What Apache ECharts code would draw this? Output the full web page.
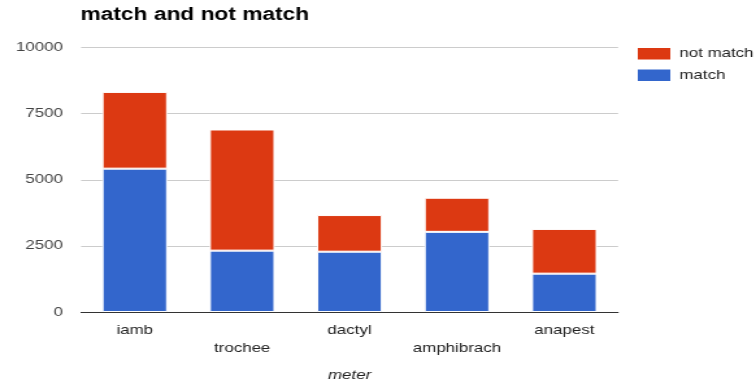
<!DOCTYPE html>
<html>
<head>
<meta charset="utf-8">
<script src="https://cdn.jsdelivr.net/npm/echarts@6/dist/echarts.min.js"></script>
<style>
  html, body { margin: 0; padding: 0; background: #fff; overflow: hidden; }
  #frame { width: 756px; height: 387px; overflow: hidden; }
  /* the chart is laid out narrower and widened horizontally, giving the wide lettering */
  #chart { width: 582px; height: 387px; transform: scaleX(1.299); transform-origin: 0 0; }
</style>
</head>
<body>
<div id="frame"><div id="chart"></div></div>
<script>
// Poetic meters and how many lines match / do not match each
const meters = ['iamb', 'trochee', 'dactyl', 'amphibrach', 'anapest'];
const matchCounts = [5420, 2320, 2280, 3030, 1450];
const notMatchCounts = [2900, 4580, 1385, 1290, 1690];
const yTicks = [0, 2500, 5000, 7500, 10000];

const FONT = 'Liberation Sans, Arial, sans-serif';

const chart = echarts.init(document.getElementById('chart'), null, { renderer: 'canvas' });
chart.setOption({
  animation: false,
  textStyle: { fontFamily: FONT },
  title: {
    text: 'match and not match',
    left: 62, top: 6, padding: 0,
    textStyle: { fontFamily: FONT, fontSize: 17.5, fontWeight: 'bold', color: '#000' }
  },
  legend: {
    data: ['not match', 'match'],
    orient: 'vertical',
    left: 489, top: 46, padding: 0,
    itemWidth: 27, itemHeight: 13.5, itemGap: 6,
    icon: 'rect',
    textStyle: { fontFamily: FONT, fontSize: 13, color: '#222', padding: [0, 0, 0, 1] }
  },
  grid: { left: 62.4, right: 106.2, top: 47.5, bottom: 72, containLabel: false },
  xAxis: {
    type: 'category',
    data: meters,
    name: 'meter',
    nameLocation: 'middle',
    nameGap: 57,
    nameTextStyle: { fontFamily: FONT, fontSize: 13, fontStyle: 'italic', color: '#222' },
    axisLine: { lineStyle: { color: '#333', width: 1 } },
    axisTick: { show: false },
    axisLabel: {
      interval: 0,
      margin: 9,
      fontSize: 13,
      color: '#222',
      lineHeight: 18.5,
      formatter: (v, i) => (i % 2 ? '\n' + v : v)
    }
  },
  yAxis: {
    type: 'value',
    min: yTicks[0],
    max: yTicks[yTicks.length - 1],
    interval: yTicks[1] - yTicks[0],
    axisLine: { show: false },
    axisTick: { show: false },
    splitLine: { lineStyle: { color: '#cccccc', width: 1 } },
    axisLabel: { fontSize: 13, color: '#444', margin: 14, formatter: v => String(v) }
  },
  series: [
    {
      name: 'match',
      type: 'bar',
      stack: 'total',
      data: matchCounts,
      barWidth: '60.6%',
      itemStyle: { color: '#3366CC', borderColor: '#ffffff', borderWidth: 1 }
    },
    {
      name: 'not match',
      type: 'bar',
      stack: 'total',
      data: notMatchCounts,
      barWidth: '60.6%',
      itemStyle: { color: '#DC3912', borderColor: '#ffffff', borderWidth: 1 }
    }
  ]
});
</script>
</body>
</html>
